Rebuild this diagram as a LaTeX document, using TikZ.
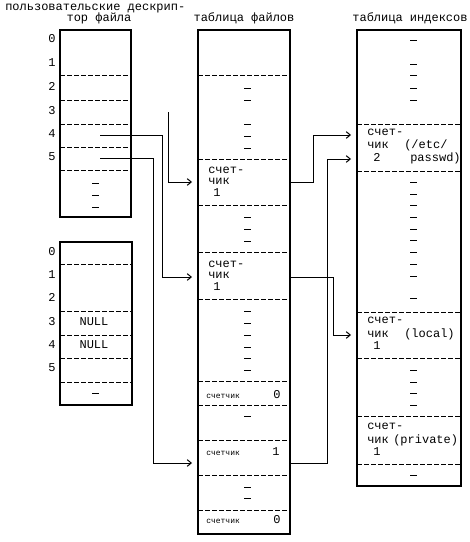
\documentclass[tikz,border=0pt]{standalone}
\usepackage{fontspec}
\setmonofont{Liberation Mono}
\usetikzlibrary{arrows.meta}

\tikzset{
  box/.style={line width=1.5pt},
  row/.style={line width=0.75pt, dash pattern=on 3.75pt off 1.5pt},
  elide/.style={line width=0.75pt},
  link/.style={line width=0.75pt, -{Straight Barb[length=3pt,width=5pt]}},
  txt/.style={font=\ttfamily\fontsize{9}{9}\selectfont, inner sep=0pt, text height=4pt, text depth=0pt, anchor=west},
  tiny/.style={txt, font=\ttfamily\fontsize{6}{6}\selectfont, text height=3pt},
}

\begin{document}
\begin{tikzpicture}[x=0.75pt,y=0.75pt,yscale=-1,xscale=1]
\useasboundingbox (0,0) rectangle (469,542);

% Text Node
\draw (5,8) node [txt] (hdA) {пользовательские дескрип-};
% Text Node
\draw (99,19) node [txt,anchor=center] (hdB) {тор файла};
% Text Node
\draw (244,19) node [txt,anchor=center] (hdF) {таблица файлов};
% Text Node
\draw (410,19) node [txt,anchor=center] (hdI) {таблица индексов};

%Shape: Rectangle (user table A)
\draw [box] (60,30) rectangle (131,217);
\draw [row] (60,76) -- (131,76);
\draw [row] (60,100) -- (131,100);
\draw [row] (60,124) -- (131,124);
\draw [row] (60,147) -- (131,147);
\draw [row] (60,170) -- (131,170);
\foreach \y in {183,195,207} \draw [elide] (92,\y) -- (99,\y);
% Text Node
\draw (52,40) node [txt,anchor=center] (a0) {0};
\draw (52,64) node [txt,anchor=center] (a1) {1};
\draw (52,88) node [txt,anchor=center] (a2) {2};
\draw (52,112) node [txt,anchor=center] (a3) {3};
\draw (52,135) node [txt,anchor=center] (a4) {4};
\draw (52,158) node [txt,anchor=center] (a5) {5};

%Shape: Rectangle (user table B)
\draw [box] (60,242) rectangle (132,405);
\draw [row] (60,264) -- (132,264);
\draw [row] (60,311) -- (132,311);
\draw [row] (60,335) -- (132,335);
\draw [row] (60,358) -- (132,358);
\draw [row] (60,382) -- (132,382);
\draw [elide] (92,393) -- (99,393);
% Text Node
\draw (52,253) node [txt,anchor=center] (b0) {0};
\draw (52,276) node [txt,anchor=center] (b1) {1};
\draw (52,299) node [txt,anchor=center] (b2) {2};
\draw (52,323) node [txt,anchor=center] (b3) {3};
\draw (52,346) node [txt,anchor=center] (b4) {4};
\draw (52,369) node [txt,anchor=center] (b5) {5};
\draw (94,323) node [txt,anchor=center] (b3n) {NULL};
\draw (94,346) node [txt,anchor=center] (b4n) {NULL};

%Shape: Rectangle (file table)
\draw [box] (198,30) rectangle (290,534);
\foreach \y in {76,159,205,252,299,381,405,440,475,510} \draw [row] (198,\y) -- (290,\y);
\foreach \y in {88,100,124,136,148,217,229,241,311,323,335,347,358,370,416,487,498} \draw [elide] (244,\y) -- (251,\y);
% Text Node
\draw (208,171) node [txt] (fA1) {счет-};
\draw (208,182) node [txt] (fA2) {чик};
\draw (217,194) node [txt,anchor=center] (fA3) {1};
\draw (208,265) node [txt] (fB1) {счет-};
\draw (208,276) node [txt] (fB2) {чик};
\draw (217,288) node [txt,anchor=center] (fB3) {1};
\draw (206,396) node [tiny] (fC1) {счетчик};
\draw (277,396) node [txt,anchor=center] (fC2) {0};
\draw (206,453) node [tiny] (fD1) {счетчик};
\draw (276,453) node [txt,anchor=center] (fD2) {1};
\draw (206,521) node [tiny] (fE1) {счетчик};
\draw (277,521) node [txt,anchor=center] (fE2) {0};

%Shape: Rectangle (inode table)
\draw [box] (357,30) rectangle (461,486);
\foreach \y in {124,171,312,358,416,464} \draw [row] (357,\y) -- (461,\y);
\foreach \y in {41,65,76,88,100,182,194,205,217,229,240,252,264,276,298,370,382,393,405,475} \draw [elide] (410,\y) -- (417,\y);
% Text Node
\draw (367,133) node [txt] (iP1) {счет-};
\draw (367,146) node [txt] (iP2) {чик};
\draw (404,146) node [txt] (iP3) {(/etc/};
\draw (377,159) node [txt,anchor=center] (iP4) {2};
\draw (410,159) node [txt] (iP5) {passwd)};
\draw (367,321) node [txt] (iL1) {счет-};
\draw (367,335) node [txt] (iL2) {чик};
\draw (404,335) node [txt] (iL3) {(local)};
\draw (377,347) node [txt,anchor=center] (iL4) {1};
\draw (367,427) node [txt] (iR1) {счет-};
\draw (367,441) node [txt] (iR2) {чик};
\draw (393,441) node [txt] (iR3) {(private)};
\draw (377,453) node [txt,anchor=center] (iR4) {1};

% connector ends
\coordinate (fd3) at (168,112);
\coordinate (fd4) at (100,135);
\coordinate (fd5) at (100,158);
\coordinate (ftA) at (192,182);
\coordinate (ftB) at (192,277);
\coordinate (ftD) at (192,463);
\coordinate (ftAo) at (290,182);
\coordinate (ftBo) at (290,277);
\coordinate (ftDo) at (290,463);
\coordinate (inP1) at (351,135);
\coordinate (inP2) at (351,159);
\coordinate (inL) at (351,335);

%Straight Lines
\draw [link] (fd3) |- (ftA);
\draw [link] (fd4) -- (162,135) |- (ftB);
\draw [link] (fd5) -- (153,158) |- (ftD);
\draw [link] (ftAo) -- (313,182) |- (inP1);
\draw [link] (ftDo) -- (327,463) |- (inP2);
\draw [link] (ftBo) -- (333,277) |- (inL);

\end{tikzpicture}
\end{document}
